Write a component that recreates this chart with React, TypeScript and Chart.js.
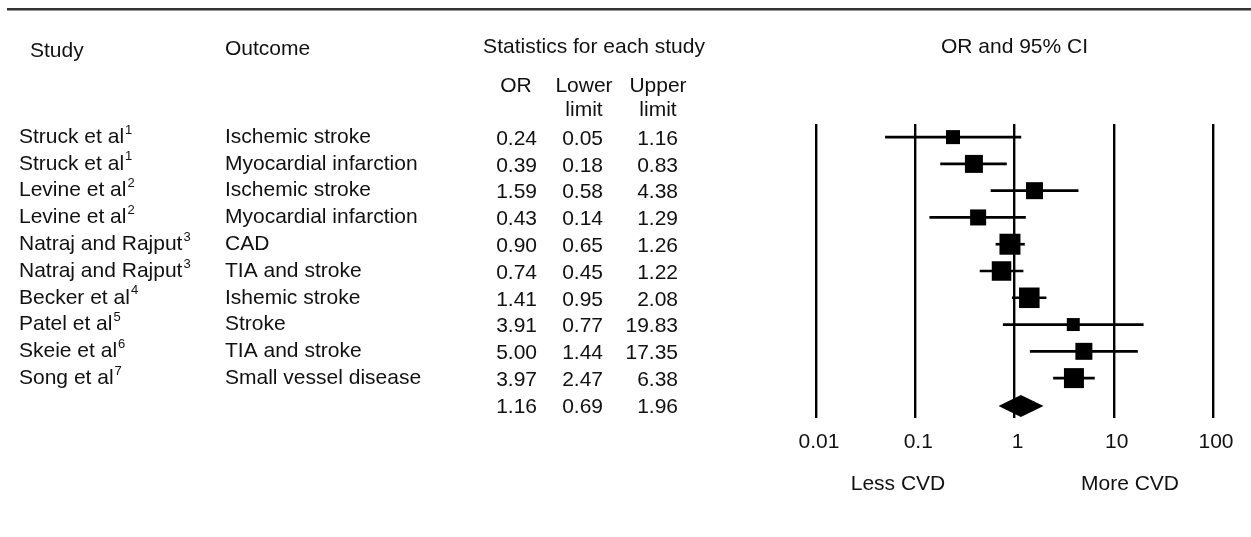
import React, { useEffect, useRef } from "react";
import { Chart, registerables } from "chart.js";

Chart.register(...registerables);

const studies = [
  "Struck et al",
  "Struck et al",
  "Levine et al",
  "Levine et al",
  "Natraj and Rajput",
  "Natraj and Rajput",
  "Becker et al",
  "Patel et al",
  "Skeie et al",
  "Song et al",
];
const refNumbers = ["1", "1", "2", "2", "3", "3", "4", "5", "6", "7"];
const outcomes = [
  "Ischemic stroke",
  "Myocardial infarction",
  "Ischemic stroke",
  "Myocardial infarction",
  "CAD",
  "TIA and stroke",
  "Ishemic stroke",
  "Stroke",
  "TIA and stroke",
  "Small vessel disease",
];
const oddsRatios = [0.24, 0.39, 1.59, 0.43, 0.9, 0.74, 1.41, 3.91, 5.0, 3.97];
const lowerLimits = [0.05, 0.18, 0.58, 0.14, 0.65, 0.45, 0.95, 0.77, 1.44, 2.47];
const upperLimits = [1.16, 0.83, 4.38, 1.29, 1.26, 1.22, 2.08, 19.83, 17.35, 6.38];
// relative study weights (%)
const studyWeights = [6.2, 10.2, 9.1, 8.1, 13.9, 12.0, 13.3, 5.3, 9.1, 12.6];
const pooledOR = 1.16;
const pooledLower = 0.69;
const pooledUpper = 1.96;
const tickValues = [0.01, 0.1, 1, 10, 100];
const tickLabels = ["0.01", "0.1", "1", "10", "100"];

const FONT = '"Liberation Sans", Arial, Helvetica, sans-serif';
const TEXT = "#111";
const FS = 21;

const forestPlugin = {
  id: "forestText",
  afterDraw(chart: any) {
    const { ctx } = chart;
    const x = chart.scales.x;
    const y = chart.scales.y;
    ctx.save();
    // top rule
    ctx.fillStyle = "#333";
    ctx.fillRect(7, 8, 1244, 2.5);

    // pooled diamond
    const yc = y.getPixelForValue(studies.length) + 1;
    ctx.beginPath();
    ctx.moveTo(x.getPixelForValue(pooledLower), yc);
    ctx.lineTo(x.getPixelForValue(pooledOR), yc - 11);
    ctx.lineTo(x.getPixelForValue(pooledUpper), yc);
    ctx.lineTo(x.getPixelForValue(pooledOR), yc + 11);
    ctx.closePath();
    ctx.fillStyle = "#000";
    ctx.fill();

    ctx.fillStyle = TEXT;
    ctx.textBaseline = "middle";
    ctx.font = `${FS}px ${FONT}`;

    // headers
    ctx.textAlign = "left";
    ctx.fillText("Study", 30, 51);
    ctx.fillText("Outcome", 225, 49);
    ctx.textAlign = "center";
    ctx.fillText("Statistics for each study", 594, 47);
    ctx.fillText("OR and 95% CI", x.getPixelForValue(1), 47);
    ctx.fillText("OR", 516, 86);
    ctx.fillText("Lower", 584, 86);
    ctx.fillText("limit", 584, 110);
    ctx.fillText("Upper", 658, 86);
    ctx.fillText("limit", 658, 110);

    // rows
    for (let i = 0; i < studies.length; i++) {
      const py = y.getPixelForValue(i);
      ctx.textAlign = "left";
      ctx.font = `${FS}px ${FONT}`;
      ctx.fillText(studies[i], 19, py);
      const w = ctx.measureText(studies[i]).width;
      ctx.font = `13px ${FONT}`;
      ctx.fillText(refNumbers[i], 19 + w + 1, py - 7);
      ctx.font = `${FS}px ${FONT}`;
      ctx.fillText(outcomes[i], 225, py);
      ctx.textAlign = "right";
      ctx.fillText(oddsRatios[i].toFixed(2), 537, py + 2);
      ctx.fillText(lowerLimits[i].toFixed(2), 603, py + 2);
      ctx.fillText(upperLimits[i].toFixed(2), 678, py + 2);
    }
    const pp = y.getPixelForValue(studies.length) + 2;
    ctx.fillText(pooledOR.toFixed(2), 537, pp);
    ctx.fillText(pooledLower.toFixed(2), 603, pp);
    ctx.fillText(pooledUpper.toFixed(2), 678, pp);

    // direction labels
    ctx.textAlign = "center";
    ctx.fillText("Less CVD", 898, 484);
    ctx.fillText("More CVD", 1130, 484);
    ctx.restore();
  },
};

export default function App() {
  const ref = useRef<HTMLCanvasElement | null>(null);
  useEffect(() => {
    if (!ref.current) return;
    const rows = studies.map((_, i) => i);
    const chart = new Chart(ref.current, {
      type: "bar",
      data: {
        datasets: [
          {
            type: "bar",
            indexAxis: "y",
            data: rows.map((i) => ({ y: i, x: [lowerLimits[i], upperLimits[i]] })),
            backgroundColor: "#000",
            borderWidth: 0,
            barThickness: 2,
            borderSkipped: false,
          } as any,
          {
            type: "scatter",
            data: rows.map((i) => ({ x: oddsRatios[i], y: i })),
            pointStyle: "rect",
            pointRadius: (c: any) => (5.63 * Math.sqrt(studyWeights[c.dataIndex])) / Math.SQRT2,
            backgroundColor: "#000",
            borderWidth: 0,
          } as any,
        ],
      },
      options: {
        responsive: false,
        animation: false,
        devicePixelRatio: 1,
        events: [],
        layout: { padding: { left: 816, right: 38, top: 124, bottom: 79 } },
        plugins: { legend: { display: false }, tooltip: { enabled: false }, title: { display: false } },
        scales: {
          x: {
            type: "logarithmic",
            min: 0.01,
            max: 100,
            offset: false,
            afterBuildTicks: (s: any) => {
              s.ticks = tickValues.map((v) => ({ value: v }));
            },
            afterFit: (s: any) => {
              s.height = 40;
            },
            ticks: {
              callback: (_v: any, i: number) => tickLabels[i],
              font: { size: FS, family: FONT },
              color: TEXT,
              padding: 12,
              labelOffset: 3,
              maxRotation: 0,
              autoSkip: false,
            },
            grid: { color: "#000", lineWidth: 2.4, drawTicks: false, offset: false },
            border: { display: false },
          },
          y: {
            type: "linear",
            reverse: true,
            min: -0.49,
            max: 10.49,
            offset: false,
            beginAtZero: false,
            grid: { offset: false },
            display: false,
          },
        },
      } as any,
      plugins: [forestPlugin],
    });
    return () => chart.destroy();
  }, []);
  return (
    <div style={{ position: "absolute", left: 0, top: 0, width: 1251, height: 537, background: "#fff" }}>
      <canvas ref={ref} width={1251} height={537} />
    </div>
  );
}
